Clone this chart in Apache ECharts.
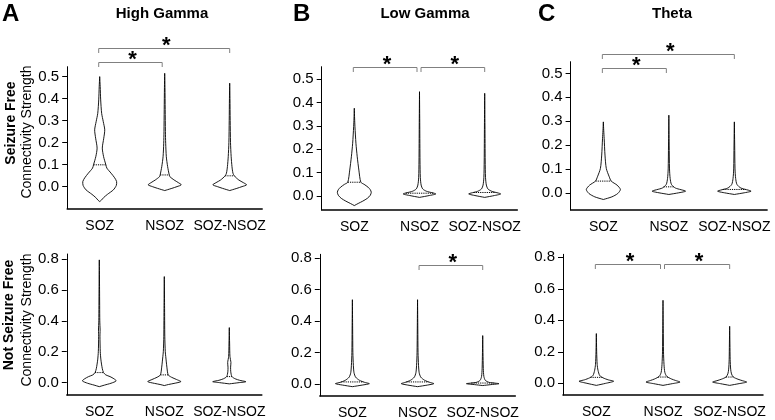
<!DOCTYPE html>
<html><head><meta charset="utf-8">
<script src="https://cdn.jsdelivr.net/npm/echarts@6/dist/echarts.min.js"></script>
<style>html,body{margin:0;padding:0;background:#fff}#c{width:775px;height:420px}</style>
</head><body><div id="c"></div>
<script>
// ---------------- data ----------------
const categories = ['SOZ', 'NSOZ', 'SOZ-NSOZ'];
const panelLetters = ['A', 'B', 'C'];
const bandTitles = ['High Gamma', 'Low Gamma', 'Theta'];
const rowTitles = ['Seizure Free', 'Not Seizure Free'];
const yTitle = 'Connectivity Strength';
const ticksTop = [0, 0.1, 0.2, 0.3, 0.4, 0.5];
const ticksBottom = [0, 0.2, 0.4, 0.6, 0.8];

// violin profiles: [value, density as fraction of half category band]
// High Gamma, Seizure Free
const hgSF_SOZ = [[0.50,0],[0.455,0.015],[0.394,0.03],[0.333,0.06],[0.295,0.11],[0.258,0.155],[0.22,0.125],[0.175,0.08],[0.136,0.12],[0.099,0.19],[0.084,0.22],[0.061,0.35],[0.04,0.46],[0.023,0.52],[0.005,0.51],[-0.015,0.42],[-0.035,0.24],[-0.05,0.12],[-0.062,0.05],[-0.068,0]];
const hgSF_NSOZ = [[0.515,0],[0.45,0.008],[0.35,0.015],[0.25,0.022],[0.197,0.03],[0.136,0.05],[0.091,0.09],[0.053,0.14],[0.045,0.16],[0.03,0.29],[0.018,0.42],[0.008,0.51],[0.0,0.38],[-0.008,0.22],[-0.014,0.09],[-0.018,0]];
const hgSF_SOZNSOZ = [[0.47,0],[0.40,0.008],[0.30,0.015],[0.20,0.025],[0.136,0.045],[0.091,0.07],[0.061,0.1],[0.049,0.14],[0.03,0.28],[0.018,0.42],[0.008,0.52],[0.0,0.38],[-0.008,0.22],[-0.014,0.09],[-0.018,0]];
const hgSF_median = [0.099, 0.053, 0.049];
const hgSF_sig = [[0, 2], [0, 1]];

// Low Gamma, Seizure Free
const lgSF_SOZ = [[0.376,0],[0.33,0.01],[0.297,0.02],[0.226,0.05],[0.168,0.09],[0.111,0.14],[0.059,0.2],[0.05,0.3],[0.038,0.42],[0.027,0.49],[0.016,0.52],[0.003,0.49],[-0.01,0.4],[-0.022,0.26],[-0.032,0.12],[-0.041,0]];
const lgSF_NSOZ = [[0.447,0],[0.3,0.008],[0.15,0.015],[0.08,0.025],[0.047,0.05],[0.03,0.1],[0.02,0.22],[0.009,0.5],[0.002,0.3],[-0.006,0]];
const lgSF_SOZNSOZ = [[0.44,0],[0.3,0.008],[0.15,0.015],[0.08,0.025],[0.047,0.05],[0.03,0.1],[0.02,0.22],[0.009,0.49],[0.002,0.3],[-0.006,0]];
const lgSF_median = [0.059, 0.012, 0.015];
const lgSF_sig = [[0, 1], [1, 2]];

// Theta, Seizure Free
const thSF_SOZ = [[0.297,0],[0.26,0.012],[0.228,0.025],[0.158,0.05],[0.102,0.09],[0.067,0.18],[0.049,0.24],[0.032,0.42],[0.014,0.52],[-0.003,0.44],[-0.017,0.26],[-0.028,0]];
const thSF_NSOZ = [[0.325,0],[0.2,0.01],[0.1,0.02],[0.06,0.04],[0.035,0.08],[0.02,0.2],[0.007,0.51],[0.0,0.3],[-0.007,0]];
const thSF_SOZNSOZ = [[0.297,0],[0.2,0.01],[0.1,0.02],[0.06,0.04],[0.035,0.08],[0.02,0.2],[0.007,0.51],[0.0,0.3],[-0.007,0]];
const thSF_median = [0.049, 0.025, 0.014];
const thSF_sig = [[0, 2], [0, 1]];

// High Gamma, Not Seizure Free
const hgNSF_SOZ = [[0.794,0],[0.6,0.008],[0.4,0.015],[0.34,0.025],[0.3,0.02],[0.2,0.03],[0.147,0.05],[0.093,0.09],[0.065,0.13],[0.05,0.2],[0.039,0.33],[0.025,0.45],[0.011,0.52],[-0.004,0.36],[-0.016,0.16],[-0.026,0]];
const hgNSF_NSOZ = [[0.686,0],[0.5,0.008],[0.3,0.015],[0.2,0.03],[0.168,0.045],[0.1,0.08],[0.05,0.12],[0.035,0.22],[0.02,0.38],[0.0065,0.51],[-0.005,0.3],[-0.012,0.13],[-0.019,0]];
const hgNSF_SOZNSOZ = [[0.356,0],[0.25,0.01],[0.17,0.02],[0.13,0.05],[0.1,0.04],[0.07,0.045],[0.039,0.08],[0.025,0.18],[0.015,0.32],[0.006,0.51],[0.0,0.3],[-0.008,0]];
const hgNSF_median = [0.065, 0.05, 0.039];
const hgNSF_sig = [];

// Low Gamma, Not Seizure Free
const lgNSF_SOZ = [[0.535,0],[0.35,0.008],[0.2,0.015],[0.12,0.03],[0.073,0.05],[0.045,0.1],[0.025,0.22],[0.012,0.38],[0.004,0.52],[-0.005,0.3],[-0.015,0]];
const lgNSF_NSOZ = [[0.535,0],[0.35,0.008],[0.2,0.015],[0.12,0.03],[0.073,0.05],[0.045,0.1],[0.025,0.22],[0.012,0.38],[0.004,0.5],[-0.005,0.3],[-0.015,0]];
const lgNSF_SOZNSOZ = [[0.308,0],[0.2,0.008],[0.1,0.018],[0.05,0.035],[0.025,0.08],[0.012,0.2],[0.004,0.5],[-0.002,0.25],[-0.008,0]];
const lgNSF_median = [0.015, 0.015, 0.008];
const lgNSF_sig = [[1, 2]];

// Theta, Not Seizure Free
const thNSF_SOZ = [[0.316,0],[0.2,0.01],[0.12,0.025],[0.083,0.05],[0.05,0.1],[0.035,0.2],[0.022,0.36],[0.013,0.52],[0.0,0.28],[-0.013,0]];
const thNSF_NSOZ = [[0.527,0],[0.35,0.008],[0.2,0.015],[0.12,0.03],[0.07,0.055],[0.045,0.11],[0.028,0.25],[0.018,0.38],[0.008,0.51],[-0.002,0.28],[-0.013,0]];
const thNSF_SOZNSOZ = [[0.362,0],[0.25,0.008],[0.15,0.015],[0.09,0.03],[0.06,0.055],[0.04,0.11],[0.026,0.25],[0.017,0.38],[0.008,0.51],[-0.002,0.28],[-0.013,0]];
const thNSF_median = [0.038, 0.04, 0.04];
const thNSF_sig = [[0, 1], [1, 2]];

// ---------------- layout ----------------
const FONT = '"Liberation Sans", Arial, Helvetica, sans-serif';
const panels = [
  {grid:{left:67.2, top:66.7, width:195, height:141.9}, min:-0.1, max:0.545, ticks:ticksTop, prof:[hgSF_SOZ,hgSF_NSOZ,hgSF_SOZNSOZ], med:hgSF_median, sig:hgSF_sig, lv:[0.629,0.568], lblMargin:11},
  {grid:{left:321.7, top:66.7, width:195.6, height:143.3}, min:-0.06, max:0.554, ticks:ticksTop, prof:[lgSF_SOZ,lgSF_NSOZ,lgSF_SOZNSOZ], med:lgSF_median, sig:lgSF_sig, lv:[0.554,0.554], lblMargin:10},
  {grid:{left:570.6, top:61.7, width:196.5, height:148.3}, min:-0.072, max:0.549, ticks:ticksTop, prof:[thSF_SOZ,thSF_NSOZ,thSF_SOZNSOZ], med:thSF_median, sig:thSF_sig, lv:[0.58,0.521], lblMargin:10},
  {grid:{left:66.8, top:254, width:195, height:141}, min:-0.08, max:0.832, ticks:ticksBottom, prof:[hgNSF_SOZ,hgNSF_NSOZ,hgNSF_SOZNSOZ], med:hgNSF_median, sig:hgNSF_sig, lv:[], lblMargin:10},
  {grid:{left:319.8, top:254.3, width:195.5, height:142.4}, min:-0.074, max:0.822, ticks:ticksBottom, prof:[lgNSF_SOZ,lgNSF_NSOZ,lgNSF_SOZNSOZ], med:lgNSF_median, sig:lgNSF_sig, lv:[0.755], lblMargin:10},
  {grid:{left:563, top:254.3, width:200, height:140.7}, min:-0.074, max:0.819, ticks:ticksBottom, prof:[thNSF_SOZ,thNSF_NSOZ,thNSF_SOZNSOZ], med:thNSF_median, sig:thNSF_sig, lv:[0.756,0.756], lblMargin:10}
];

function interpWidth(prof, v) {
  for (let i = 0; i < prof.length - 1; i++) {
    const a = prof[i], b = prof[i + 1];
    if (v <= a[0] && v >= b[0]) {
      const t = (a[0] - v) / (a[0] - b[0] || 1);
      return a[1] + (b[1] - a[1]) * t;
    }
  }
  return 0;
}

function violinRenderer(profiles) {
  return function (params, api) {
    const cat = api.value(0);
    const prof = profiles[params.dataIndex];
    const cx = api.coord([cat, 0])[0];
    const half = api.size([1, 0])[0] / 2;
    const right = [], left = [];
    prof.forEach(function (p) {
      const y = api.coord([cat, p[0]])[1];
      right.push([cx + p[1] * half, y]);
      left.push([cx - p[1] * half, y]);
    });
    const pts = right.concat(left.reverse());
    const m = api.value(1);
    const dm = interpWidth(prof, m) * half;
    const ym = api.coord([cat, m])[1];
    return {
      type: 'group',
      children: [
        {type: 'polygon', shape: {points: pts, smooth: 0.25}, style: {fill: '#fff', stroke: '#000', lineWidth: 0.9}},
        {type: 'line', shape: {x1: cx - dm, y1: ym, x2: cx + dm, y2: ym}, style: {stroke: '#000', lineWidth: 1, lineDash: [1.2, 1]}}
      ]
    };
  };
}

function bracketRenderer(params, api) {
  const a = api.value(0), b = api.value(1), lv = api.value(2);
  const y = Math.round(api.coord([a, lv])[1]) + 0.5;
  const x1 = api.coord([a, lv])[0] + (a === 1 ? 1.5 : -1);
  const x2 = api.coord([b, lv])[0] + (b === 1 ? -2.5 : 0);
  return {
    type: 'group',
    children: [
      {type: 'polyline', shape: {points: [[x1, y + 4.5], [x1, y], [x2, y], [x2, y + 4.5]]}, style: {stroke: '#808080', lineWidth: 1, fill: null}},
      {type: 'text', style: {text: '*', x: (x1 + x2) / 2 + 2, y: y - 3, align: 'center', verticalAlign: 'middle', font: 'bold 22px ' + FONT, fill: '#000'}}
    ]
  };
}

const grids = [], xAxes = [], yAxes = [], series = [];
panels.forEach(function (p, i) {
  grids.push(Object.assign({containLabel: false}, p.grid));
  xAxes.push({
    type: 'category', gridIndex: i, data: categories, boundaryGap: true,
    axisLine: {show: true, onZero: false, lineStyle: {color: '#000', width: 1.5}},
    axisTick: {show: false},
    axisLabel: {color: '#000', fontSize: 14, fontFamily: FONT, margin: p.lblMargin, interval: 0},
    splitLine: {show: false}
  });
  yAxes.push({
    type: 'value', gridIndex: i, min: p.min, max: p.max,
    axisLine: {show: true, onZero: false, lineStyle: {color: '#000', width: 1}},
    axisTick: {show: true, length: 5, lineStyle: {color: '#000'}, customValues: p.ticks},
    axisLabel: {color: '#000', fontSize: 15, fontFamily: FONT, margin: 8, customValues: p.ticks,
      formatter: function (v) { return Number(v).toFixed(1); }},
    splitLine: {show: false}
  });
  series.push({
    type: 'custom', xAxisIndex: i, yAxisIndex: i,
    data: p.med.map(function (m, k) { return [k, m]; }),
    encode: {x: 0, y: 1},
    renderItem: violinRenderer(p.prof),
    silent: true, z: 2
  });
  if (p.sig.length) {
    series.push({
      type: 'custom', xAxisIndex: i, yAxisIndex: i,
      data: p.sig.map(function (s, k) { return [s[0], s[1], p.lv[k]]; }),
      encode: {x: [0, 1], y: 2},
      renderItem: bracketRenderer,
      clip: false, silent: true, z: 3
    });
  }
});

const graphic = [];
[[2, 14], [293, 14], [538, 14]].forEach(function (pos, k) {
  graphic.push({type: 'text', x: pos[0], y: pos[1], style: {text: panelLetters[k], font: 'bold 24px ' + FONT, fill: '#000', align: 'left', verticalAlign: 'middle'}});
});
[162, 425, 672].forEach(function (x, k) {
  graphic.push({type: 'text', x: x, y: 14, style: {text: bandTitles[k], font: 'bold 15px ' + FONT, fill: '#000', align: 'center', verticalAlign: 'middle'}});
});
[[11, 123, 27, 132], [9, 315, 27, 320]].forEach(function (r, k) {
  graphic.push({type: 'text', x: r[0], y: r[1], rotation: Math.PI / 2, style: {text: rowTitles[k], font: 'bold 14px ' + FONT, fill: '#000', align: 'center', verticalAlign: 'middle'}});
  graphic.push({type: 'text', x: r[2], y: r[3], rotation: Math.PI / 2, style: {text: yTitle, font: '14px ' + FONT, fill: '#000', align: 'center', verticalAlign: 'middle'}});
});

const chart = echarts.init(document.getElementById('c'), null, {renderer: 'canvas'});
chart.setOption({
  animation: false,
  backgroundColor: '#fff',
  grid: grids, xAxis: xAxes, yAxis: yAxes, series: series, graphic: graphic
});
</script>
</body></html>
